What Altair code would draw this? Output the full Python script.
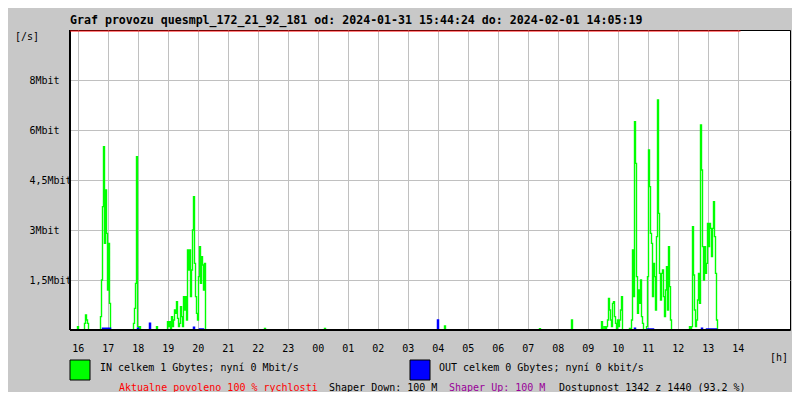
import altair as alt
import pandas as pd

# ---------------- data ----------------
title_text = "Graf provozu quesmpl_172_21_92_181 od: 2024-01-31 15:44:24 do: 2024-02-01 14:05:19"

# time axis: minutes since 2024-01-31 15:44:24 (24 h window)
window_minutes = 1440
data_end_minute = 1340.9          # 2024-02-01 14:05:19

hour_tick_minutes = [15.6, 75.6, 135.6, 195.6, 255.6, 315.6, 375.6, 435.6, 495.6,
                     555.6, 615.6, 675.6, 735.6, 795.6, 855.6, 915.6, 975.6,
                     1035.6, 1095.6, 1155.6, 1215.6, 1275.6, 1335.6]
hour_labels = ["16", "17", "18", "19", "20", "21", "22", "23", "00", "01", "02",
               "03", "04", "05", "06", "07", "08", "09", "10", "11", "12", "13", "14"]

y_tick_values = [1.5, 3, 4.5, 6, 7.5]
y_tick_labels = ["1,5Mbit", "3Mbit", "4,5Mbit", "6Mbit", "8Mbit"]
y_max = 9

# IN traffic (Mbit/s)
in_minutes = [0, 14, 16, 18, 28, 30, 32, 34, 36, 38,
              60, 62, 64, 66, 68, 70, 72, 74, 76, 78, 80, 82,
              126, 128, 130, 132, 134, 136, 138, 140, 142,
              172, 174, 176,
              194, 196, 198, 200, 202, 204, 206, 208, 210, 212, 214, 216, 218, 220,
              222, 224, 226, 228, 230, 232, 234, 236, 238, 240, 242, 244, 246, 248,
              250, 252, 254, 256, 258, 260, 262, 264, 266, 268, 270, 272,
              388, 390, 392, 508, 510, 512, 748, 750, 752, 938, 940, 942,
              1002, 1004, 1006,
              1062, 1064, 1066, 1070, 1072, 1074, 1076, 1078, 1080, 1082, 1084, 1086,
              1088, 1090, 1092, 1094, 1096, 1098, 1100, 1102, 1104, 1106,
              1118, 1120, 1122, 1124, 1126, 1128, 1130, 1132, 1134, 1136, 1138, 1140,
              1142, 1144, 1146, 1148,
              1152, 1154, 1156, 1158, 1160, 1162, 1164, 1166, 1168, 1170, 1172, 1174,
              1176, 1178, 1180, 1182, 1184, 1186, 1188, 1190, 1192, 1194, 1196, 1198,
              1200, 1202, 1204,
              1238, 1240, 1242, 1244, 1246, 1248, 1250, 1252, 1254, 1256, 1258, 1260,
              1262, 1264, 1266, 1268, 1270, 1272, 1274, 1276, 1278, 1280, 1282, 1284,
              1286, 1288, 1290, 1292, 1294, 1296, 1340]
in_mbit = [0, 0, 0.1, 0, 0, 0.2, 0.45, 0.3, 0.2, 0,
           0, 0.4, 1.5, 3.7, 5.5, 2.6, 4.2, 2.9, 1.2, 2.6, 0.8, 0,
           0, 0.2, 0.65, 1.4, 5.2, 0.1, 0, 0.1, 0,
           0, 0.1, 0,
           0, 0.25, 0.1, 0.25, 0.05, 0.4, 0.1, 0.3, 0.6, 0.5, 0.85, 0.35, 0.1, 0.2,
           0.7, 0.4, 0.1, 1.0, 0.6, 1.0, 0.3, 2.4, 1.8, 2.4, 1.0, 1.8, 3.0, 4.0,
           2.0, 1.0, 0.5, 0.3, 1.6, 2.5, 1.4, 2.2, 1.95, 1.2, 2.0, 0,
           0, 0.05, 0, 0, 0.05, 0, 0, 0.12, 0, 0, 0.04, 0,
           0, 0.3, 0,
           0, 0.25, 0, 0.1, 0, 0.1, 0.3, 0.95, 0.6, 0.3, 0.1, 0.8,
           0.85, 0.4, 0.2, 0.05, 0.3, 0.1, 0.3, 0.6, 1.0, 0,
           0, 0.05, 0, 0.3, 2.4, 1.0, 6.25, 5.0, 1.6, 0.5, 1.2, 0.8,
           1.5, 0.4, 0.2, 0,
           0, 0.1, 1.6, 5.4, 4.3, 2.9, 2.6, 1.0, 2.0, 1.6, 0.6, 2.8,
           6.9, 3.5, 1.7, 0.9, 1.7, 1.8, 1.0, 0.4, 1.2, 1.9, 0.6, 2.5,
           1.3, 0.3, 0,
           0, 0.1, 0.05, 0.1, 3.1, 1.65, 0.6, 0.1, 0.3, 0.9, 1.7, 0.8,
           6.15, 4.8, 2.5, 1.5, 2.5, 1.7, 2.0, 3.2, 2.5, 3.2, 3.05, 2.2,
           3.05, 3.85, 2.8, 1.7, 0.3, 0, 0]

# OUT traffic (Mbit/s)
out_minutes = [0, 64, 66, 80, 82, 134, 136, 138, 158, 160, 162, 246, 248, 250,
               258, 260, 266, 268, 734, 736, 738, 1128, 1130, 1132, 1154, 1156,
               1166, 1168, 1262, 1264, 1266, 1272, 1274, 1292, 1294, 1340]
out_mbit = [0, 0, 0.05, 0.05, 0, 0, 0.05, 0, 0, 0.2, 0, 0, 0.08, 0,
            0, 0.03, 0.03, 0, 0, 0.3, 0, 0, 0.05, 0, 0, 0.03,
            0.03, 0, 0, 0.05, 0, 0, 0.03, 0.03, 0, 0]

legend_in = "IN celkem 1 Gbytes; nyní 0 Mbit/s"
legend_out = "OUT celkem 0 Gbytes; nyní 0 kbit/s"
footer_texts = ["Aktualne povoleno 100 % rychlosti", "Shaper Down: 100 M",
                "Shaper Up: 100 M", "Dostupnost 1342 z 1440 (93.2 %)"]
footer_colors = ["#ff0000", "#000000", "#990099", "#000000"]
footer_x = [49, 259, 379, 489]

# ---------------- chart ----------------
FONT = "DejaVu Sans Mono"
W, H = 720, 300

in_df = pd.DataFrame({"t": in_minutes, "v": in_mbit})
out_df = pd.DataFrame({"t": out_minutes, "v": out_mbit})

x_scale = alt.Scale(domain=[0, window_minutes], nice=False, zero=False)
y_scale = alt.Scale(domain=[0, y_max], nice=False)

x_label_expr = "[" + ",".join("'%s'" % s for s in hour_labels) + "][round((datum.value - %s) / 60)]" % hour_tick_minutes[0]
y_label_expr = ""
for v, s in zip(y_tick_values, y_tick_labels):
    y_label_expr += "abs(datum.value - %s) < 0.01 ? '%s' : " % (v, s)
y_label_expr += "''"

x_axis = alt.Axis(values=hour_tick_minutes, labelExpr=x_label_expr, title=None,
                  grid=True, gridColor="#c0c0c0", gridWidth=1, domain=False,
                  ticks=False, tickSize=0, labelPadding=13, labelFont=FONT,
                  labelFontSize=10, labelColor="black", labelBaseline="top",
                  labelFlush=False, labelOverlap=False)
y_axis = alt.Axis(values=y_tick_values, labelExpr=y_label_expr, title=None,
                  grid=True, gridColor="#c0c0c0", gridWidth=1, domain=False,
                  ticks=False, tickSize=0, labelPadding=41, labelAlign="left",
                  labelBaseline="middle", labelFont=FONT, labelFontSize=10,
                  labelColor="black", labelFlush=False, labelOverlap=False)


def X(field):
    return alt.X(field, scale=x_scale, axis=x_axis, title=None)


def Y(field):
    return alt.Y(field, scale=y_scale, axis=y_axis, title=None)


in_line = alt.Chart(in_df).mark_line(interpolate="step", color="#00ff00", strokeWidth=1.4).encode(
    x=X("t:Q"), y=Y("v:Q"))
out_line = alt.Chart(out_df).mark_line(interpolate="step", color="#0000ff", strokeWidth=1.5).encode(
    x=X("t:Q"), y=Y("v:Q"))

base_rule = alt.Chart(pd.DataFrame({"t": [0], "b": [window_minutes], "v": [0]})).mark_rule(
    color="black", strokeWidth=2).encode(x=X("t:Q"), x2="b:Q", y=Y("v:Q"))
left_rule = alt.Chart(pd.DataFrame({"t": [0], "v": [0], "v1": [y_max]})).mark_rule(
    color="black", strokeWidth=2).encode(x=X("t:Q"), y=Y("v:Q"), y2="v1:Q")
red_rule = alt.Chart(pd.DataFrame({"t": [0], "b": [data_end_minute], "v": [y_max]})).mark_rule(
    color="#ff0000", strokeWidth=1, yOffset=1).encode(x=X("t:Q"), x2="b:Q", y=Y("v:Q"))

one = alt.Data(values=[{}])


def label(text, x, y, color="black", size=10, weight="normal"):
    return alt.Chart(one).mark_text(
        text=text, align="left", baseline="alphabetic", font=FONT, fontSize=size,
        fontWeight=weight, color=color,
    ).encode(x=alt.value(x), y=alt.value(y))


def square(x, color):
    return alt.Chart(one).mark_rect(fill=color, stroke="black", strokeWidth=1).encode(
        x=alt.value(x), x2=alt.value(x + 20), y=alt.value(330), y2=alt.value(350))


texts = [
    label(title_text, 0, -6, size=11.6, weight="bold"),
    label("[/s]", -55, 10),
    label("[h]", 700, 331),
    label(legend_in, 30, 341),
    label(legend_out, 369, 341),
]
for t, c, x in zip(footer_texts, footer_colors, footer_x):
    texts.append(label(t, x, 361, color=c))

chart = alt.layer(
    in_line, out_line, base_rule, left_rule, red_rule,
    square(0, "#00ff00"), square(340, "#0000ff"),
    *texts,
).properties(
    width=W, height=H,
    autosize=alt.AutoSizeParams(type="none"),
    padding={"left": 62, "top": 22, "right": 2, "bottom": 62},
    background="#c8c8c8",
).configure_view(stroke="black", strokeWidth=1, fill="white")

chart.save("out.html", embed_options={"renderer": "svg", "actions": False})
